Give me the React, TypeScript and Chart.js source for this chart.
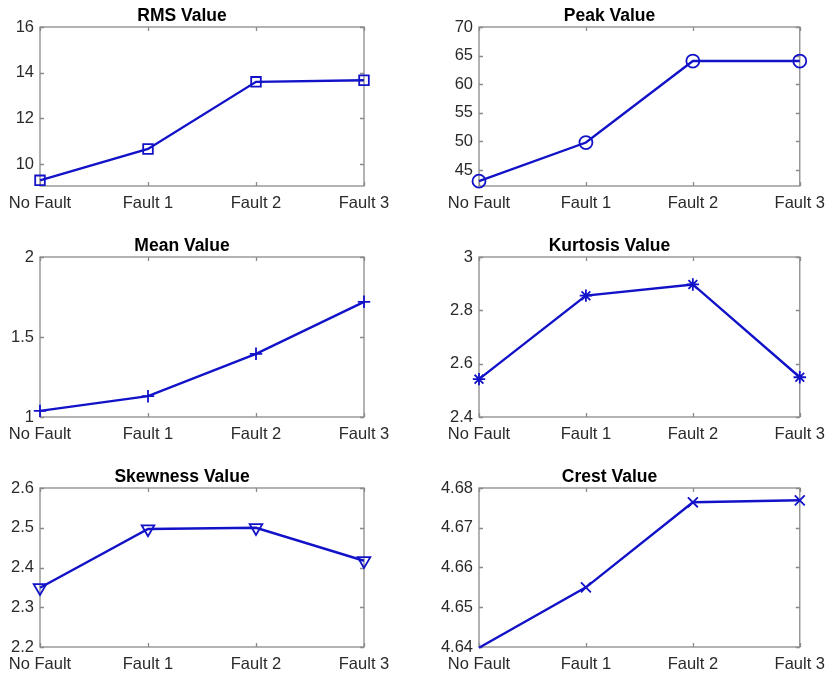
import React, { useEffect, useRef } from "react";
import { Chart, registerables } from "chart.js";

Chart.register(...registerables);

const categories = ["No Fault", "Fault 1", "Fault 2", "Fault 3"];

const rmsValues = [9.29, 10.66, 13.6, 13.67];
const peakValues = [43.05, 49.8, 64.05, 64.05];
const meanValues = [1.038, 1.13, 1.395, 1.72];
const kurtosisValues = [2.542, 2.855, 2.897, 2.549];
const skewnessValues = [2.349, 2.497, 2.5, 2.417];
const crestValues = [4.6398, 4.655, 4.6764, 4.6769];

const rmsTicks = [10, 12, 14, 16];
const peakTicks = [45, 50, 55, 60, 65, 70];
const meanTicks = [1, 1.5, 2];
const kurtosisTicks = [2.4, 2.6, 2.8, 3];
const skewnessTicks = [2.2, 2.3, 2.4, 2.5, 2.6];
const crestTicks = [4.64, 4.65, 4.66, 4.67, 4.68];

const LINE_COLOR = "#1212c8";
const AXIS_COLOR = "#8a8a8a";
const TEXT_COLOR = "#2a2a2a";
const FONT = "'Liberation Sans', Arial, Helvetica, sans-serif";

type Panel = {
  title: string;
  values: number[];
  ticks: number[];
  min: number;
  max: number;
  pointStyle: string;
  radius: number;
  rotation?: number;
  col: number;
  row: number;
};

const panels: Panel[] = [
  { title: "RMS Value", values: rmsValues, ticks: rmsTicks, min: 9.04, max: 16, pointStyle: "rect", radius: 6.8, col: 0, row: 0 },
  { title: "Peak Value", values: peakValues, ticks: peakTicks, min: 42.2, max: 70, pointStyle: "circle", radius: 6.5, col: 1, row: 0 },
  { title: "Mean Value", values: meanValues, ticks: meanTicks, min: 1, max: 2, pointStyle: "cross", radius: 6.2, col: 0, row: 1 },
  { title: "Kurtosis Value", values: kurtosisValues, ticks: kurtosisTicks, min: 2.4, max: 3, pointStyle: "star", radius: 6.2, col: 1, row: 1 },
  { title: "Skewness Value", values: skewnessValues, ticks: skewnessTicks, min: 2.2, max: 2.6, pointStyle: "triangle", radius: 7.3, rotation: 180, col: 0, row: 2 },
  { title: "Crest Value", values: crestValues, ticks: crestTicks, min: 4.64, max: 4.68, pointStyle: "crossRot", radius: 7, col: 1, row: 2 },
];

const colsLayout = [
  { x: 0, w: 416, yAxisW: 40, padRight: 52 },
  { x: 416, w: 417, yAxisW: 63, padRight: 30 },
];
const rowsLayout = [
  { y: 0, h: 224, plotTop: 27, plotBottom: 186 },
  { y: 224, h: 224, plotTop: 33, plotBottom: 193 },
  { y: 448, h: 226, plotTop: 40, plotBottom: 199 },
];

const TITLE_SIZE = 17.5;
const TITLE_LH = 1.2;

const boxPlugin = {
  id: "matlabBox",
  beforeDatasetsDraw(chart: any) {
    const { ctx, chartArea: a, scales } = chart;
    const tl = 4;
    ctx.save();
    ctx.strokeStyle = AXIS_COLOR;
    ctx.lineWidth = 1.3;
    ctx.beginPath();
    scales.x.ticks.forEach((_t: any, i: number) => {
      const px = Math.round(scales.x.getPixelForTick(i)) + 0.5;
      ctx.moveTo(px, a.bottom);
      ctx.lineTo(px, a.bottom - tl);
      ctx.moveTo(px, a.top);
      ctx.lineTo(px, a.top + tl);
    });
    scales.y.ticks.forEach((_t: any, i: number) => {
      const py = Math.round(scales.y.getPixelForTick(i)) + 0.5;
      ctx.moveTo(a.left, py);
      ctx.lineTo(a.left + tl, py);
      ctx.moveTo(a.right, py);
      ctx.lineTo(a.right - tl, py);
    });
    ctx.stroke();
    ctx.strokeRect(a.left, a.top, a.right - a.left, a.bottom - a.top);
    ctx.restore();
  },
};

function fmt(v: number) {
  return String(Number(Number(v).toFixed(6)));
}

function PanelChart({ p }: { p: Panel }) {
  const ref = useRef<HTMLCanvasElement | null>(null);
  const c = colsLayout[p.col];
  const r = rowsLayout[p.row];
  useEffect(() => {
    if (!ref.current) return;
    const titleH = TITLE_SIZE * TITLE_LH;
    const chart = new Chart(ref.current, {
      type: "line",
      data: {
        labels: categories,
        datasets: [
          {
            data: p.values,
            borderColor: LINE_COLOR,
            borderWidth: 2.4,
            pointStyle: p.pointStyle as any,
            pointRotation: p.rotation || 0,
            pointRadius: (ctx: any) => {
              const v = ctx.raw;
              return v < p.min || v > p.max ? 0 : p.radius;
            },
            pointBorderColor: LINE_COLOR,
            pointBackgroundColor: "rgba(0,0,0,0)",
            pointBorderWidth: 1.8,
            tension: 0,
            fill: false,
            clip: 8,
          } as any,
        ],
      },
      options: {
        animation: false,
        responsive: false,
        devicePixelRatio: 1,
        events: [],
        layout: { padding: { left: 0, top: 0, right: c.padRight, bottom: 0 } },
        plugins: {
          legend: { display: false },
          tooltip: { enabled: false },
          title: {
            display: true,
            text: p.title,
            color: "#000",
            font: { family: FONT, size: TITLE_SIZE, weight: "bold", lineHeight: TITLE_LH },
            padding: { top: r.plotTop - titleH - 0.5, bottom: 0.5 },
          },
        },
        scales: {
          x: {
            type: "category",
            offset: false,
            grid: { display: false, drawTicks: false },
            border: { display: false },
            ticks: {
              color: TEXT_COLOR,
              font: { family: FONT, size: 16.5 },
              padding: 8,
              maxRotation: 0,
              autoSkip: false,
            },
            afterFit: (s: any) => {
              s.height = r.h - r.plotBottom;
            },
          },
          y: {
            type: "linear",
            min: p.min,
            max: p.max,
            grid: { display: false, drawTicks: false },
            border: { display: false },
            ticks: {
              color: TEXT_COLOR,
              font: { family: FONT, size: 16.5 },
              padding: 6,
              callback: (v: any) => fmt(v),
            },
            afterBuildTicks: (s: any) => {
              s.ticks = p.ticks.map((v) => ({ value: v }));
            },
            afterFit: (s: any) => {
              s.width = c.yAxisW;
            },
          },
        },
      },
      plugins: [boxPlugin],
    } as any);
    return () => chart.destroy();
  }, []);
  return (
    <canvas
      ref={ref}
      width={c.w}
      height={r.h}
      style={{ position: "absolute", left: c.x, top: r.y, width: c.w, height: r.h }}
    />
  );
}

export default function App() {
  return (
    <div style={{ position: "absolute", left: 0, top: 0, width: 833, height: 674, background: "#fff" }}>
      {panels.map((p) => (
        <PanelChart key={p.title} p={p} />
      ))}
    </div>
  );
}
